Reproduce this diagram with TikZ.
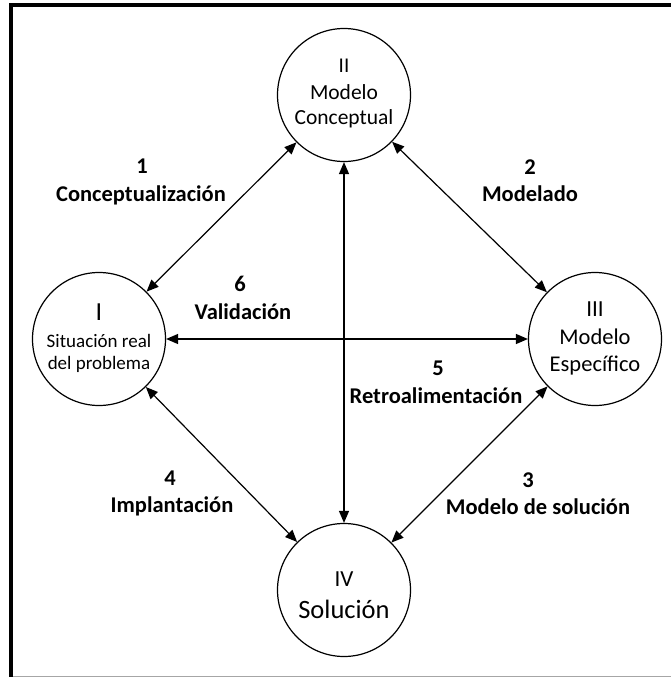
\documentclass[tikz,border=0pt]{standalone}
\usepackage{fontspec}
\setmainfont{Carlito}
\usetikzlibrary{arrows.meta}
\begin{document}
\begin{tikzpicture}[x=1pt,y=-1pt,
  stage/.style={circle,draw,line width=1.2pt,minimum size=133pt,inner sep=0pt},
  conn/.style={{Triangle[length=12pt,width=10pt]}-{Triangle[length=12pt,width=10pt]},line width=1.2pt},
  lbl/.style={font=\fontsize{22.5}{26}\selectfont\bfseries,anchor=base,inner sep=0pt},
  txt/.style={anchor=base,inner sep=0pt}
]
\useasboundingbox (0,0) rectangle (671,677);
\draw[line width=4pt,line join=miter] (11.3,677) -- (11.3,5.3) -- (671,5.3);
\draw[black!35,line width=1pt] (13,676) -- (671,676);

\node[stage] (c1) at (99,339) {};
\node[stage] (c2) at (344,95) {};
\node[stage] (c3) at (595,339) {};
\node[stage] (c4) at (344,590) {};

\node[txt,font=\fontsize{26}{30}\selectfont] (t1a) at (99,320.5) {I};
\node[txt,font=\fontsize{19}{23}\selectfont] (t1b) at (99,347) {Situación real};
\node[txt,font=\fontsize{19}{23}\selectfont] (t1c) at (99,369) {del problema};

\node[txt,font=\fontsize{21}{25}\selectfont] (t2a) at (344,72) {II};
\node[txt,font=\fontsize{21.5}{25}\selectfont] (t2b) at (344,99.5) {Modelo};
\node[txt,font=\fontsize{21.5}{25}\selectfont] (t2c) at (344,124) {Conceptual};

\node[txt,font=\fontsize{23}{27}\selectfont] (t3a) at (595,316.5) {III};
\node[txt,font=\fontsize{22.5}{27}\selectfont] (t3b) at (595,344) {Modelo};
\node[txt,font=\fontsize{22.5}{27}\selectfont] (t3c) at (595,371.5) {Específico};

\node[txt,font=\fontsize{23}{27}\selectfont] (t4a) at (344,586.5) {IV};
\node[txt,font=\fontsize{26.5}{30}\selectfont] (t4b) at (344,618) {Solución};

\draw[conn] (c1) -- (c2);
\draw[conn] (c2) -- (c3);
\draw[conn] (c3) -- (c4);
\draw[conn] (c4) -- (c1);
\draw[conn] (c1) -- (c3);
\draw[conn] (c2) -- (c4);

\node[lbl] (n1) at (142,173.5) {1};
\node[lbl] (l1) at (141,201) {Conceptualización};
\node[lbl] (n2) at (530,174) {2};
\node[lbl] (l2) at (530,201) {Modelado};
\node[lbl] (n6) at (240,291) {6};
\node[lbl] (l6) at (243,319) {Validación};
\node[lbl] (n5) at (438,375) {5};
\node[lbl] (l5) at (436,403) {Retroalimentación};
\node[lbl] (n4) at (170,485) {4};
\node[lbl] (l4) at (172,512) {Implantación};
\node[lbl] (n3) at (528,487) {3};
\node[lbl] (l3) at (538,514) {Modelo de solución};
\end{tikzpicture}
\end{document}
